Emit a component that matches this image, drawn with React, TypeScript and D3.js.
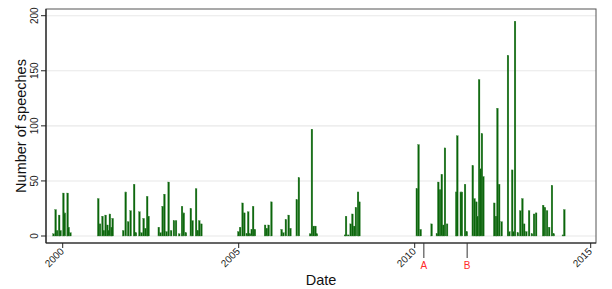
import React from "react";
import * as d3 from "d3";

// decimal year of each bar and its count of speeches
const dates = [
  1999.74, 1999.8, 1999.84, 1999.9, 1999.94, 2000.02, 2000.06, 2000.14, 2000.17, 2000.22,
  2001.01, 2001.06, 2001.13, 2001.17, 2001.22, 2001.27, 2001.31, 2001.34, 2001.39, 2001.42,
  2001.72, 2001.79, 2001.86, 2001.93, 2002.03, 2002.08, 2002.18, 2002.24, 2002.3, 2002.35, 2002.4, 2002.44,
  2002.73, 2002.78, 2002.84, 2002.89, 2002.95, 2003.01, 2003.08, 2003.16, 2003.22, 2003.31, 2003.39,
  2003.44, 2003.5, 2003.64, 2003.69, 2003.79, 2003.84, 2003.88, 2003.94,
  2004.99, 2005.04, 2005.11, 2005.16, 2005.23, 2005.27, 2005.32, 2005.37, 2005.41, 2005.46,
  2005.75, 2005.8, 2005.85, 2005.93,
  2006.22, 2006.27, 2006.34, 2006.42, 2006.47, 2006.65, 2006.71,
  2007.03, 2007.08, 2007.13, 2007.18, 2007.22,
  2008.02, 2008.05, 2008.11, 2008.18, 2008.23, 2008.28, 2008.33, 2008.39, 2008.43,
  2010.06, 2010.11, 2010.17, 2010.48, 2010.63, 2010.67, 2010.72, 2010.77, 2010.81, 2010.86, 2010.92,
  2011.18, 2011.21, 2011.31, 2011.34, 2011.43, 2011.48,
  2011.65, 2011.7, 2011.75, 2011.78, 2011.83, 2011.87, 2011.91, 2011.95,
  2012.26, 2012.31, 2012.35, 2012.4, 2012.47, 2012.65, 2012.69, 2012.77, 2012.8, 2012.85, 2012.93,
  2013.0, 2013.06, 2013.11, 2013.17, 2013.25, 2013.33, 2013.39, 2013.45,
  2013.65, 2013.7, 2013.76, 2013.82, 2013.9, 2013.95, 2014.21, 2014.25,
];
const speeches = [
  2, 24, 5, 19, 5, 39, 21, 39, 8, 3,
  34, 11, 18, 5, 19, 10, 5, 20, 8, 16,
  5, 40, 13, 23, 47, 3, 22, 3, 16, 7, 36, 18,
  8, 3, 27, 38, 4, 49, 5, 14, 14, 2, 27,
  21, 3, 25, 14, 43, 5, 14, 11,
  4, 8, 30, 21, 2, 22, 2, 6, 27, 6,
  10, 7, 10, 31,
  6, 3, 15, 19, 7, 33, 53,
  2, 97, 9, 9, 2,
  1, 18, 1, 11, 20, 9, 26, 40, 31,
  43, 83, 6, 11, 2, 49, 42, 56, 10, 80, 11,
  40, 91, 40, 40, 47, 4,
  64, 34, 31, 18, 142, 61, 93, 54,
  30, 18, 116, 47, 13, 164, 4, 60, 4, 195, 3,
  23, 34, 11, 4, 23, 2, 20, 21,
  28, 26, 23, 8, 46, 2, 1, 24,
];

const yTicks = [0, 50, 100, 150, 200];
const xTicks = [2000, 2005, 2010, 2015];
const eventLabels = ["A", "B"];
const eventDates = [2010.26, 2011.49];

const W = 612;
const H = 289;
const plot = { left: 46, right: 596, top: 9, bottom: 243 };
const font = "Liberation Sans, Arial, Helvetica, sans-serif";

const App = () => {
  const x = d3.scaleLinear().domain([2000, 2015]).range([62.7, 590.7]);
  const y = d3.scaleLinear().domain([0, 200]).range([236, 15.7]);
  const barW = 1.7;

  return (
    <svg
      width={W}
      height={H}
      style={{ position: "absolute", left: 0, top: 0, background: "#fff" }}
      fontFamily={font}
    >
      {/* grid */}
      {yTicks.map((t) => (
        <line
          key={"g" + t}
          x1={plot.left}
          x2={plot.right}
          y1={y(t)}
          y2={y(t)}
          stroke="#e8e8e8"
          strokeWidth={1.1}
        />
      ))}

      {/* bars */}
      {dates.map((d, i) => (
        <rect
          key={"b" + i}
          x={x(d) - barW / 2}
          y={y(speeches[i])}
          width={barW}
          height={y(0) - y(speeches[i])}
          fill="#0a650a"
          stroke="#2f7d2f"
          strokeWidth={0.3}
        />
      ))}

      {/* plot frame */}
      <rect
        x={plot.left}
        y={plot.top}
        width={plot.right - plot.left}
        height={plot.bottom - plot.top}
        fill="none"
        stroke="#555"
        strokeWidth={1}
      />
      <line x1={plot.left} x2={plot.left} y1={plot.top} y2={plot.bottom} stroke="#222" strokeWidth={1.2} />
      <line x1={plot.left} x2={plot.right} y1={plot.bottom} y2={plot.bottom} stroke="#222" strokeWidth={1.2} />

      {/* y axis */}
      {yTicks.map((t) => (
        <g key={"y" + t}>
          <line x1={plot.left - 5} x2={plot.left} y1={y(t)} y2={y(t)} stroke="#222" />
          <text
            transform={`translate(${38},${y(t)}) rotate(-90)`}
            textAnchor="middle"
            fontSize={10}
            fill="#222"
          >
            {t}
          </text>
        </g>
      ))}
      <text
        transform={`translate(${26},${126}) rotate(-90)`}
        textAnchor="middle"
        fontSize={14.5}
        fill="#111"
      >
        Number of speeches
      </text>

      {/* x axis */}
      {xTicks.map((t) => (
        <g key={"x" + t}>
          <line x1={x(t)} x2={x(t)} y1={plot.bottom} y2={plot.bottom + 5} stroke="#222" />
          <text
            transform={`translate(${x(t) + 2},${plot.bottom + 9}) rotate(-45)`}
            textAnchor="end"
            fontSize={10}
            fill="#222"
          >
            {t}
          </text>
        </g>
      ))}
      {eventDates.map((d, i) => (
        <g key={"e" + i}>
          <line x1={x(d)} x2={x(d)} y1={plot.bottom} y2={plot.bottom + 15} stroke="#333" strokeWidth={1} />
          <text x={x(d)} y={plot.bottom + 26} textAnchor="middle" fontSize={10} fill="#ff2a2a">
            {eventLabels[i]}
          </text>
        </g>
      ))}
      <text x={321} y={285} textAnchor="middle" fontSize={14.5} fill="#111">
        Date
      </text>
    </svg>
  );
};

export default App;
